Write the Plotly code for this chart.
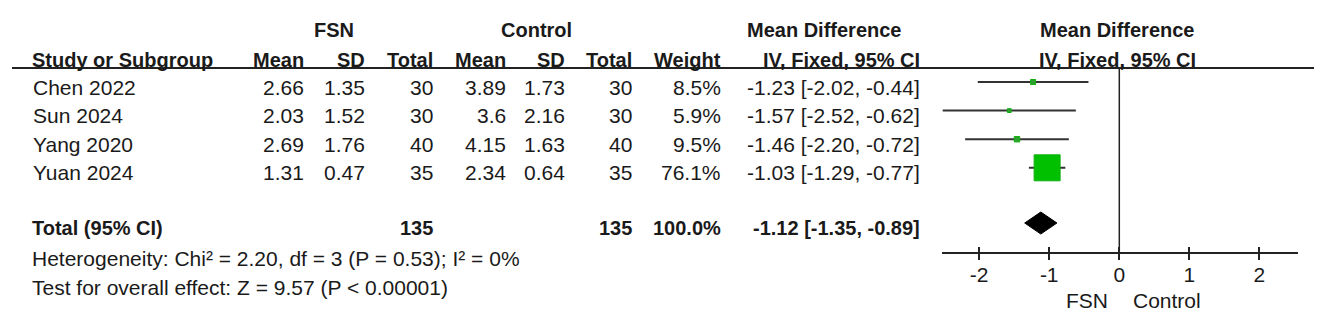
import plotly.graph_objects as go

# ---------------- data ----------------
studies = ["Chen 2022", "Sun 2024", "Yang 2020", "Yuan 2024"]
fsn_mean = [2.66, 2.03, 2.69, 1.31]
fsn_sd = [1.35, 1.52, 1.76, 0.47]
fsn_n = [30, 30, 40, 35]
ctl_mean = [3.89, 3.6, 4.15, 2.34]
ctl_sd = [1.73, 2.16, 1.63, 0.64]
ctl_n = [30, 30, 40, 35]
weights = [8.5, 5.9, 9.5, 76.1]
md = [-1.23, -1.57, -1.46, -1.03]
ci_lo = [-2.02, -2.52, -2.20, -1.29]
ci_hi = [-0.44, -0.62, -0.72, -0.77]
total_label = "Total (95% CI)"
total_fsn_n = 135
total_ctl_n = 135
total_weight = 100.0
total_md = -1.12
total_lo = -1.35
total_hi = -0.89
heterogeneity = "Heterogeneity: Chi² = 2.20, df = 3 (P = 0.53); I² = 0%"
overall = "Test for overall effect: Z = 9.57 (P &lt; 0.00001)"
tick_vals = [-2, -1, 0, 1, 2]
favours_left = "FSN"
favours_right = "Control"

# ---------------- layout helpers ----------------
# the HTML page body has an 8px margin; work in page pixels and shift
OFF = 8
PAGE_W, PAGE_H = 1325, 318
W, H = PAGE_W - OFF, PAGE_H - OFF
FONT = "Arial, 'Liberation Sans', sans-serif"
FS = 21
FSB = 20
TXT = "#1a1a1a"
row0, row_step = 82, 28.6
text_off = 5
total_y = 223
axis_y = 253
header_line_y = 68

row_y = [row0 + i * row_step - OFF for i in range(len(studies))]


def py(y):
    return y - OFF


def pxp(x):
    return (x - OFF) / W


fig = go.Figure()
annotations = []


def ann(text, xpx, y, anchor="right", bold=False, xref="paper"):
    t = f"<b>{text}</b>" if bold else text
    annotations.append(dict(
        text=t, x=pxp(xpx) if xref == "paper" else xpx, y=py(y), xref=xref, yref="y",
        xanchor=anchor, yanchor="middle", showarrow=False,
        font=dict(family=FONT, size=FSB if bold else FS, color=TXT),
    ))


# header row 1
ann("FSN", 334, 30, "center", True)
ann("Control", 536, 30, "center", True)
ann("Mean Difference", 824, 30, "center", True)
ann("Mean Difference", 1117, 30, "center", True)
# header row 2
ann("Study or Subgroup", 30, 60, "left", True)
cols = [306, 367, 435, 508, 567, 634, 723]
for name, x in zip(["Mean", "SD", "Total", "Mean", "SD", "Total", "Weight"], cols):
    ann(name, x, 60, "right", True)
ann("IV, Fixed, 95% CI", 922, 60, "right", True)
ann("IV, Fixed, 95% CI", 1117, 60, "center", True)

# study rows
for i, s in enumerate(studies):
    yt = row_y[i] + OFF + text_off
    ann(s, 31, yt, "left")
    vals = [fsn_mean[i], fsn_sd[i], fsn_n[i], ctl_mean[i], ctl_sd[i], ctl_n[i]]
    for v, x in zip(vals, cols[:6]):
        ann(str(v), x, yt, "right")
    ann(f"{weights[i]:.1f}%", cols[6], yt, "right")
    ann(f"{md[i]:.2f} [{ci_lo[i]:.2f}, {ci_hi[i]:.2f}]", 922, yt, "right")

# total row
yt = total_y + text_off
ann(total_label, 30, yt, "left", True)
ann(str(total_fsn_n), cols[2], yt, "right", True)
ann(str(total_ctl_n), cols[5], yt, "right", True)
ann(f"{total_weight:.1f}%", cols[6], yt, "right", True)
ann(f"{total_md:.2f} [{total_lo:.2f}, {total_hi:.2f}]", 922, yt, "right", True)

ann(heterogeneity, 30, 258, "left")
ann(overall, 30, 287, "left")

# favours labels (data coords on forest axis)
ann(favours_left, -0.13, 300, "right", xref="x")
ann(favours_right, 0.17, 300, "left", xref="x")

# ---------------- forest marks ----------------
for i in range(len(studies)):
    fig.add_trace(go.Scatter(
        x=[ci_lo[i], ci_hi[i]], y=[row_y[i], row_y[i]], mode="lines",
        line=dict(color="#333333", width=2), hoverinfo="skip", showlegend=False,
    ))

max_w = max(weights)
sizes = [26 * (w / max_w) ** 0.75 for w in weights]
colors = ["#00c000" if w == max_w else "#2f9f2f" for w in weights]
fig.add_trace(go.Scatter(
    x=md, y=row_y, mode="markers",
    marker=dict(symbol="square", size=sizes, color=colors, opacity=1,
                line=dict(color="#10b010", width=1)),
    opacity=1, showlegend=False, cliponaxis=False, hoverinfo="skip",
))

dh = 11
ty = py(total_y)
fig.add_trace(go.Scatter(
    x=[total_lo, total_md, total_hi, total_md, total_lo],
    y=[ty, ty - dh, ty, ty + dh, ty],
    mode="lines", fill="toself", fillcolor="#000000",
    line=dict(color="#000000", width=1), showlegend=False, hoverinfo="skip",
))

shapes = [
    dict(type="line", xref="paper", yref="y", x0=pxp(12), x1=pxp(1314),
         y0=py(header_line_y), y1=py(header_line_y), line=dict(color="#222222", width=2)),
    dict(type="line", xref="x", yref="y", x0=0, x1=0, y0=py(header_line_y), y1=py(axis_y),
         line=dict(color="#222222", width=1.5)),
]

dom = [pxp(942), pxp(1298)]
pos = (H - py(axis_y)) / H
fig.update_layout(
    width=W, height=H,
    margin=dict(l=0, r=0, t=0, b=0),
    paper_bgcolor="white", plot_bgcolor="rgba(0,0,0,0)",
    annotations=annotations, shapes=shapes,
    xaxis=dict(domain=dom, range=[-2.53, 2.55], anchor="free", position=pos,
               showline=True, linecolor="#222222", linewidth=1.5,
               ticks="outside", ticklen=6, tickwidth=1.5, tickcolor="#222222",
               tickvals=tick_vals, ticktext=[str(v) for v in tick_vals],
               tickfont=dict(family=FONT, size=FS, color=TXT),
               ticklabelstandoff=-3,
               showgrid=False, zeroline=False, fixedrange=True),
    xaxis2=dict(domain=dom, matches="x", overlaying="x", anchor="free", position=pos,
                showline=False, ticks="inside", ticklen=6, tickwidth=1.5,
                tickcolor="#222222", tickvals=tick_vals, showticklabels=False,
                showgrid=False, zeroline=False),
    yaxis=dict(domain=[0, 1], range=[H, 0], visible=False, fixedrange=True),
    showlegend=False,
)
# invisible trace to activate xaxis2
fig.add_trace(go.Scatter(x=[0], y=[py(axis_y)], xaxis="x2", mode="markers",
                         marker=dict(opacity=0), showlegend=False, hoverinfo="skip"))

fig.write_html("out.html")
